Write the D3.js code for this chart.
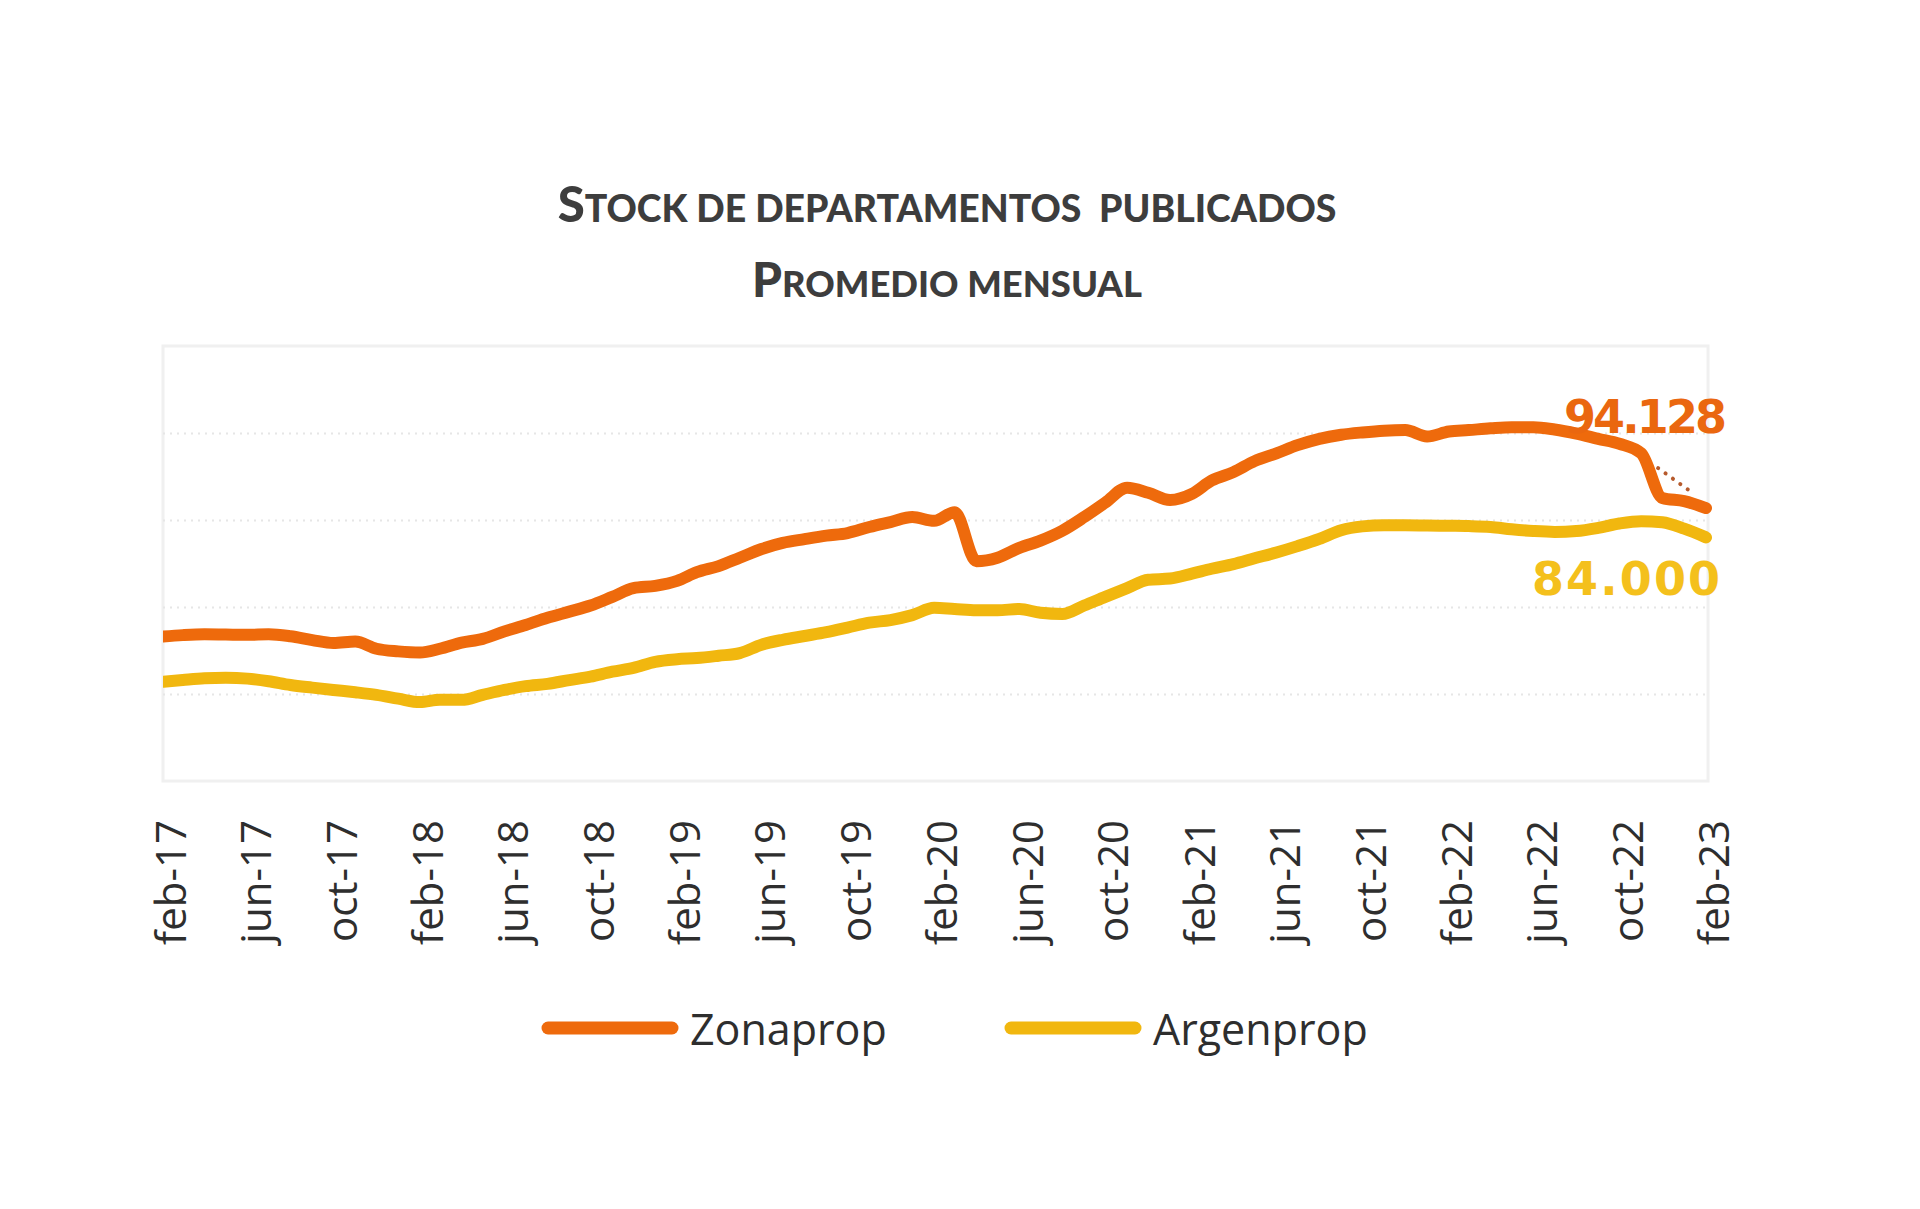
<!DOCTYPE html>
<html>
<head>
<meta charset="utf-8">
<script src="https://cdn.jsdelivr.net/npm/d3@7"></script>
<style>
  body { margin: 0; background: #fff; }
</style>
</head>
<body>
<div id="chart"></div>
<script>
// chart data, monthly from feb-17 to feb-23
const startMonth = new Date(2017, 1, 1)
const tickLabels = ["feb-17", "jun-17", "oct-17", "feb-18", "jun-18", "oct-18", "feb-19", "jun-19", "oct-19",
  "feb-20", "jun-20", "oct-20", "feb-21", "jun-21", "oct-21", "feb-22", "jun-22", "oct-22", "feb-23"]

const zonaprop = [
  49800, 50300, 50600, 50500, 50400, 50600, 49900, 48600, 47600, 48100, 45600, 44700,
  44300, 45600, 47700, 49000, 51600, 53800, 56300, 58400, 60500, 63500, 66500, 67300,
  69000, 72000, 74100, 77000, 80000, 82100, 83400, 84600, 85500, 87600, 89300, 91000,
  89700, 92700, 75800, 77000, 80400, 82900, 86300, 91000, 96000, 101100, 99400, 96900,
  99000, 103600, 106500, 110300, 113000, 115800, 118000, 119400, 120200, 120800, 121000, 118800,
  120500, 121000, 121600, 122000, 122000, 121200, 119800, 118000, 116300, 113000, 97600, 96500,
  94128]

const argenprop = [
  34200, 34800, 35400, 35600, 35300, 34400, 33100, 32200, 31400, 30600, 29700, 28400,
  27200, 28000, 28000, 29700, 31400, 32700, 33500, 34800, 36000, 37700, 39000, 41100,
  42000, 42400, 43200, 44100, 47000, 48700, 50000, 51300, 52900, 54600, 55500, 57200,
  59700, 59300, 58900, 58900, 59300, 58000, 57600, 60500, 63500, 66500, 69400, 69800,
  71500, 73200, 74800, 76800, 78800, 81000, 83500, 86500, 87800, 88200, 88200, 88100,
  88000, 87900, 87600, 86800, 86200, 85900, 86200, 87300, 88800, 89600, 89200, 87000,
  84000]

// little dotted mark next to the last Zonaprop drop
const dottedDates = [new Date(2022, 10, 25), new Date(2023, 0, 11)]
const dottedValues = [107900, 99700]

const seriesNames = ["Zonaprop", "Argenprop"]
const endLabels = ["94.128", "84.000"]
const gridValues = [30000, 60000, 90000, 120000]

//defaults for the chart
const width = 1920
const height = 1209
const plotLeft = 163
const plotRight = 1706
const boxRight = 1708
const plotTop = 346
const plotBottom = 781
const orange = "#ee6a0c"
const yellow = "#f1b70f"

const svg = d3.select("#chart")
  .append("svg")
  .attr("width", width)
  .attr("height", height)
  .style("background", "#fff")

const months = zonaprop.map((d, i) => d3.timeMonth.offset(startMonth, i))
const tickDates = tickLabels.map((d, i) => d3.timeMonth.offset(startMonth, i * 4))

const xScale = d3.scaleTime()
  .domain([months[0], months[months.length - 1]])
  .range([plotLeft, plotRight])

const yScale = d3.scaleLinear()
  .domain([0, 150000])
  .range([plotBottom, plotTop])

// title, two lines in "small caps": big initial + smaller capitals
const titleLines = [
  { first: "S", rest: "TOCK DE DEPARTAMENTOS  PUBLICADOS", y: 222, w: 779 },
  { first: "P", rest: "ROMEDIO MENSUAL", y: 297, w: 390 }
]
titleLines.forEach(t => {
  const el = svg.append("text")
    .attr("x", 947)
    .attr("y", t.y)
    .attr("text-anchor", "middle")
    .style("font-family", "Lato, 'Open Sans', sans-serif")
    .style("font-weight", 900)
    .style("white-space", "pre")
    .style("fill", "#3d3d3d")
  const big = el.append("tspan").text(t.first).style("font-size", "46px")
  const small = el.append("tspan").text(t.rest).style("font-size", "35px")
  const len = el.node().getComputedTextLength()
  const k = t.w / len
  big.style("font-size", (46 * k) + "px")
  small.style("font-size", (35 * k) + "px")
})

// plot box and faint grid
svg.append("rect")
  .attr("x", plotLeft)
  .attr("y", plotTop)
  .attr("width", boxRight - plotLeft)
  .attr("height", plotBottom - plotTop)
  .attr("fill", "none")
  .attr("stroke", "#f0f0f0")
  .attr("stroke-width", 3)

const grid = svg.append("g")
  .attr("transform", "translate(" + plotLeft + ",0)")
  .call(d3.axisLeft(yScale).tickValues(gridValues).tickSize(-(boxRight - plotLeft)).tickFormat(""))
grid.select(".domain").remove()
grid.selectAll("line")
  .attr("stroke", "#e6e6e6")
  .attr("stroke-width", 2)
  .attr("stroke-dasharray", "2,5")

// x axis, rotated labels
const xAxis = svg.append("g")
  .attr("id", "x-axis")
  .attr("transform", "translate(0," + plotBottom + ")")
  .call(d3.axisBottom(xScale).tickValues(tickDates).tickSize(0).tickFormat((d, i) => tickLabels[i]))
xAxis.select(".domain").remove()
xAxis.selectAll("text")
  .attr("transform", "rotate(-90)")
  .attr("x", -39)
  .attr("y", 8)
  .attr("dy", "0.35em")
  .style("text-anchor", "end")
  .style("font-family", "'Open Sans', sans-serif")
  .style("font-size", "42px")
  .style("fill", "#2e2e2e")

// lines
svg.append("clipPath")
  .attr("id", "clip")
  .append("rect")
  .attr("x", plotLeft)
  .attr("y", 0)
  .attr("width", width - plotLeft)
  .attr("height", height)

const line = d3.line()
  .x((d, i) => xScale(months[i]))
  .y(d => yScale(d))
  .curve(d3.curveMonotoneX)

const lines = svg.append("g").attr("clip-path", "url(#clip)")

lines.append("path")
  .datum(argenprop)
  .attr("d", line)
  .attr("fill", "none")
  .attr("stroke", yellow)
  .attr("stroke-width", 12)
  .attr("stroke-linecap", "round")
  .attr("stroke-linejoin", "round")

lines.append("path")
  .datum(zonaprop)
  .attr("d", line)
  .attr("fill", "none")
  .attr("stroke", orange)
  .attr("stroke-width", 12)
  .attr("stroke-linecap", "round")
  .attr("stroke-linejoin", "round")

const dotted = d3.line()
  .x((d, i) => xScale(dottedDates[i]))
  .y(d => yScale(d))

svg.append("path")
  .datum(dottedValues)
  .attr("d", dotted)
  .attr("fill", "none")
  .attr("stroke", "#b65a2c")
  .attr("stroke-width", 4)
  .attr("stroke-linecap", "round")
  .attr("stroke-dasharray", "0.1,9")

// value labels at the end of the series
const last = months.length - 1
svg.append("text")
  .attr("x", xScale(months[last]) + 21)
  .attr("y", yScale(zonaprop[last]) - 75)
  .attr("text-anchor", "end")
  .attr("textLength", 163)
  .style("font-family", "'DejaVu Sans', sans-serif")
  .style("font-weight", 700)
  .style("font-size", "46px")
  .style("fill", "#ea670f")
  .text(endLabels[0])

svg.append("text")
  .attr("x", xScale(months[last]) + 14)
  .attr("y", yScale(argenprop[last]) + 58)
  .attr("text-anchor", "end")
  .attr("textLength", 188)
  .style("font-family", "'DejaVu Sans', sans-serif")
  .style("font-weight", 700)
  .style("font-size", "46px")
  .style("fill", "#f4c01c")
  .text(endLabels[1])

// legend
const legend = [
  { x: 548, color: orange, name: seriesNames[0] },
  { x: 1011, color: yellow, name: seriesNames[1] }
]
legend.forEach(l => {
  svg.append("line")
    .attr("x1", l.x)
    .attr("x2", l.x + 124)
    .attr("y1", 1028)
    .attr("y2", 1028)
    .attr("stroke", l.color)
    .attr("stroke-width", 13)
    .attr("stroke-linecap", "round")
  svg.append("text")
    .attr("x", l.x + 142)
    .attr("y", 1045)
    .style("font-family", "'Open Sans', sans-serif")
    .style("font-size", "43px")
    .style("fill", "#2e2e2e")
    .text(l.name)
})
</script>
</body>
</html>
